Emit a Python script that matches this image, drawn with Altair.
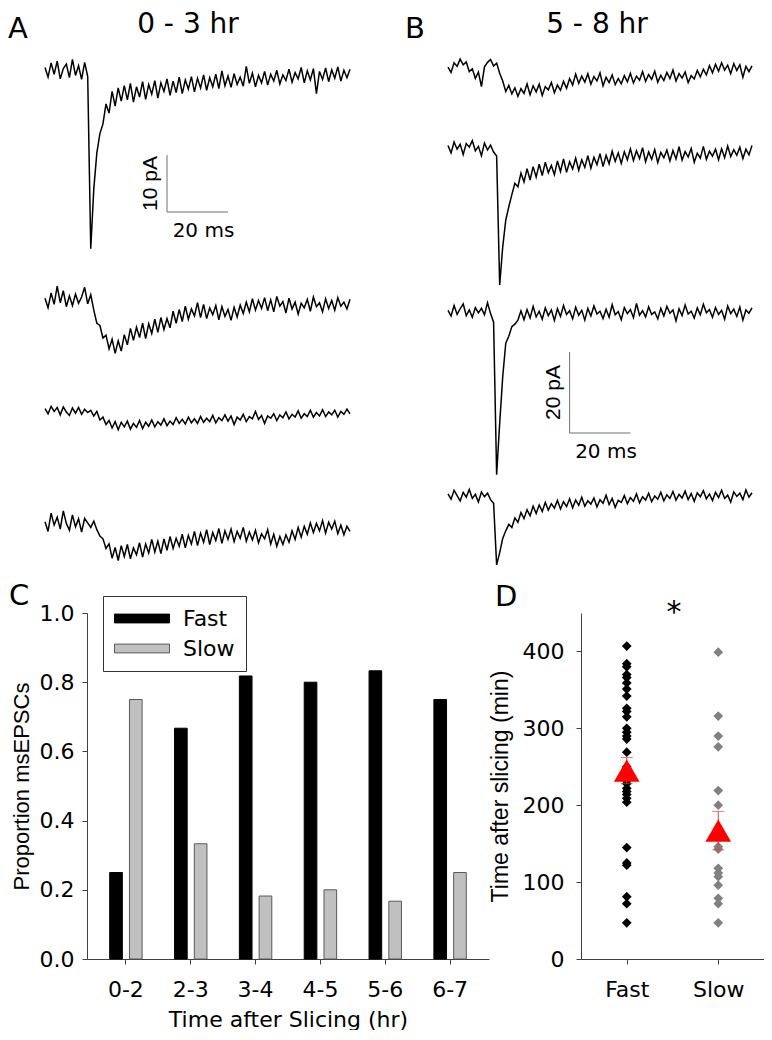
import altair as alt
import pandas as pd

# ---------------- data ----------------
dt_ms = 1.0

# Panel A (0 - 3 hr), pA relative to each trace's baseline
trace_A1 = [0.8, -0.9, 1.6, -0.4, 1.9, -1.2, 0.6, 1.4, -1.0, 2.2, -0.6, 1.1, -1.3, 1.7, -0.8,
            -31.0, -20.5, -14.2, -10.8, -9.1, -5.6, -7.2, -3.4, -6.0, -2.8, -5.1, -2.4, -4.9, -2.0, -5.3,
            -2.6, -4.4, -1.7, -4.8, -2.2, -3.9, -1.5, -4.6, -1.9, -3.4, -1.2, -4.1, -1.6, -3.6, -0.9,
            -3.8, -1.4, -3.0, -0.8, -3.5, -1.1, -2.8, -0.5, -3.2, -1.0, -2.6, -0.4, -2.9, 0.2, -2.4,
            -0.7, -2.7, -0.3, -2.2, -0.9, -2.5, 1.0, -2.0, -0.2, -2.6, -0.6, -1.9, 0.1, -2.3, -0.4,
            -1.6, 0.3, -2.1, -0.5, -1.5, 0.5, -1.8, -0.1, -1.2, 0.8, -1.9, 0.2, -1.4, 0.6, -3.8,
            0.1, -1.3, 0.7, -1.7, 0.4, -1.1, 0.9, -1.6, 0.3, -1.0, 0.5]
trace_A2 = [0.5, -1.2, 1.4, -0.6, 2.6, -0.3, 1.8, -1.0, 0.9, -0.8, 1.2, -0.4, 0.7, 2.4, -0.5, 1.1,
            -1.6, -3.9, -4.3, -6.5, -6.0, -8.4, -6.7, -9.2, -7.0, -8.8, -5.9, -7.7, -4.8, -6.9,
            -4.6, -6.4, -3.9, -6.6, -4.0, -5.7, -3.2, -5.5, -2.9, -5.0, -3.1, -4.7, -1.8, -3.9, -1.5,
            -3.6, -0.9, -3.2, -1.4, -2.6, -0.3, -2.9, -0.6, -3.1, -1.2, -2.4, -0.8, -3.3, -1.0, -2.7,
            -1.5, -3.4, -1.1, -2.8, -0.7, -2.2, -0.2, -1.9, 0.4, -1.6, 0.1, -1.3, 0.6, -1.7, 0.2,
            -1.9, 0.8, -0.9, -0.1, -2.1, 0.5, -1.4, -0.2, -2.3, -0.4, -1.2, 0.3, -1.8, 0.7, -1.0,
            -0.3, -1.9, 0.4, -1.3, 0.1, -1.6, 0.6, -0.9, -0.2, -1.4, 0.3]
trace_A3 = [0.6, -0.3, 1.0, 0.1, 0.8, -0.5, 0.9, 0.0, -0.6, 0.7, -0.2, 0.8, -0.4, 0.5, -0.1, 0.3, -0.7,
            0.1, -1.4, -0.9, -2.2, -1.5, -2.8, -1.7, -3.1, -1.8, -2.6, -1.6, -3.0, -2.0, -2.7,
            -1.5, -2.9, -1.8, -2.5, -1.4, -2.6, -1.7, -2.3, -1.2, -2.4, -1.6, -2.2, -1.0, -2.0,
            -1.3, -2.1, -0.9, -1.9, -1.2, -2.0, -0.8, -1.8, -1.1, -1.7, -0.6, -1.9, -1.0, -1.5,
            -0.5, -1.6, -0.7, -2.2, -0.9, -1.4, -0.4, -1.7, -0.8, -1.2, 0.1, -1.3, -0.6, -2.0,
            -0.7, -1.1, -0.3, -1.5, -0.5, -1.0, 0.0, -1.2, -0.4, -0.9, 0.2, -1.1, -0.3, -0.8,
            0.3, -0.9, -0.1, -0.7, 0.4, -0.8, 0.0, -0.5, 0.3, -0.9, 0.1, -0.4, 0.5, -0.3]
trace_A4 = [0.4, -1.3, 1.9, -0.2, 1.2, -0.9, 2.3, 0.1, -1.1, 1.6, -0.5, 0.9, -1.4, 1.0, 0.2, -0.6, 0.5,
            -1.0, -2.1, -2.6, -4.3, -3.5, -6.0, -4.1, -6.4, -3.8, -5.7, -3.6, -6.1, -4.2, -5.4,
            -3.3, -5.8, -3.5, -5.1, -2.7, -4.9, -3.0, -5.2, -2.6, -4.6, -2.2, -4.3, -2.5, -3.9,
            -1.8, -4.2, -2.0, -3.5, -1.3, -3.8, -1.6, -3.2, -1.0, -3.6, -1.5, -2.9, -0.8, -3.4,
            -1.2, -2.7, -0.9, -3.1, -1.3, -2.5, -0.6, -3.0, -1.4, -2.8, -1.1, -3.3, -1.7, -2.6,
            -1.0, -3.5, -1.8, -3.9, -2.2, -3.6, -1.9, -3.2, -1.2, -2.7, -0.6, -2.3, -0.4, -1.8,
            0.2, -1.5, 0.1, -1.2, 0.6, -1.6, 0.3, -0.9, 0.5, -1.7, -0.2, -1.9, -0.4, -1.3]

# Panel B (5 - 8 hr)
trace_B1 = [0.2, -1.1, 1.3, 0.4, 2.2, 0.8, 1.5, -0.9, -0.2, -2.6, -1.0, -4.6, 0.3, 1.4, 2.1, 0.5, 1.2,
            -1.3, -3.2, -5.8, -4.3, -6.4, -4.9, -7.0, -5.1, -6.3, -3.9, -6.6, -4.4, -5.9, -4.0,
            -6.8, -4.6, -5.4, -3.6, -6.1, -4.2, -5.5, -3.3, -5.0, -2.6, -4.2, -1.5, -3.8, -2.0,
            -3.5, -1.4, -4.0, -2.1, -3.2, -1.2, -4.4, -2.3, -3.6, -1.7, -4.1, -2.6, -3.9, -1.9,
            -3.4, -1.3, -3.7, -2.0, -3.0, -0.9, -3.3, -1.6, -2.8, -0.8, -3.5, -1.8, -3.1, -1.1,
            -2.6, -0.5, -3.2, -1.4, -2.5, -1.0, -3.6, -1.9, -2.7, -0.6, -2.2, -0.3, -1.7, 0.6,
            -1.2, 0.9, -0.8, 1.3, -0.5, 0.7, -1.4, 1.1, -0.6, 0.8, -2.3, 0.4, -0.9, 0.5]
trace_B2 = [0.6, -1.2, 1.5, -0.3, 0.9, -1.6, 1.1, 0.2, 1.8, -0.7, 0.4, -1.9, 1.2, -0.5, 0.7, -1.0,
            -2.0, -33.8, -24.4, -17.8, -14.5, -11.5, -8.7, -9.6, -6.2, -8.4, -5.1, -7.9, -4.6, -7.2,
            -4.0, -6.8, -3.5, -6.1, -4.3, -6.6, -3.2, -5.8, -2.7, -6.0, -3.4, -5.2, -2.5, -5.5,
            -2.9, -4.8, -1.9, -5.0, -2.3, -4.1, -1.4, -4.6, -1.8, -3.9, -0.8, -3.3, -1.2, -3.8,
            -0.9, -2.9, -0.2, -3.1, -0.7, -2.6, 0.1, -3.4, -1.0, -2.8, -0.4, -3.6, -1.1, -2.4,
            -0.5, -3.2, -0.6, -2.7, 0.3, -3.0, -0.9, -2.2, -0.1, -3.5, -1.3, -2.5, 0.4, -2.8,
            -0.8, -2.0, -0.3, -2.9, -0.2, -2.4, 0.5, -2.1, -0.4, -1.8, 0.2, -2.6, -0.3, -1.7, 0.6]
trace_B3 = [0.4, -1.0, 1.6, -0.6, 0.8, 2.0, -0.9, 0.5, -1.3, 1.1, -0.2, 0.9, -0.7, 2.3, -0.4,
            -2.5, -40.2, -27.5, -16.0, -7.7, -6.0, -3.6, -3.0, -2.0, 0.3, -1.9, 0.6, -1.5, 1.4,
            -1.2, 0.2, -1.8, 1.0, -0.9, 0.5, -2.1, 0.8, -1.1, 1.6, -0.6, 0.3, -1.7, 1.2, -0.8,
            0.4, -2.0, 0.9, -1.0, 1.5, -0.5, 0.2, -1.6, 0.7, -1.3, 1.8, -0.7, 0.1, -1.9, 1.1,
            -0.4, 0.6, -1.4, 2.1, -0.8, 0.3, -1.2, 1.3, -0.6, 0.0, -1.7, 0.9, -1.0, 1.4, -0.3,
            0.5, -2.2, 0.8, -0.9, 1.7, -0.5, 0.2, -1.5, 1.0, -0.7, 1.9, -0.2, 0.6, -1.3, 1.1,
            -0.6, 0.4, -1.8, 1.5, -0.4, 0.7, -1.1, 1.2, -2.0, 0.5, -0.3, 1.0]
trace_B4 = [0.5, -0.8, 1.4, 0.1, -1.2, 0.9, -0.3, 1.6, -0.6, 0.4, -1.5, 1.0, -0.2, 0.7, -0.9,
            -1.8, -17.0, -14.0, -10.5, -8.6, -7.0, -7.8, -5.4, -6.5, -4.1, -5.6, -3.4, -4.9, -2.5,
            -4.3, -2.2, -3.8, -1.6, -3.5, -1.9, -3.0, -1.1, -3.2, -1.4, -2.6, -0.7, -2.9, -1.0,
            -2.3, -0.3, -2.5, -1.2, -2.0, -0.5, -2.7, -0.9, -1.8, 0.2, -2.1, -0.6, -2.8, -1.1,
            -1.6, 0.1, -1.9, -0.4, -1.3, 0.5, -1.7, -0.2, -1.0, 0.7, -1.4, 0.0, -0.8, 0.9, -1.2,
            0.3, -0.6, 1.1, -1.0, 0.4, -0.5, 1.2, -0.9, 0.6, -1.3, 0.8, -0.2, 1.3, -0.7, 0.5,
            -1.1, 0.9, -0.4, 1.4, -0.6, 0.2, -1.5, 1.0, -0.1, 0.7, -0.9, 1.5, -0.3, 0.8]

scale_ms = 20
scale_pA_A = 10
scale_pA_B = 20

# Panel C
time_bins = ["0-2", "2-3", "3-4", "4-5", "5-6", "6-7"]
groups = ["Fast", "Slow"]
prop_fast = [0.25, 0.667, 0.818, 0.80, 0.833, 0.75]
prop_slow = [0.75, 0.333, 0.182, 0.20, 0.167, 0.25]

# Panel D (minutes after slicing)
fast_times = [407, 384, 380, 370, 366, 359, 351, 342, 326, 322, 315, 300, 295, 290, 286,
              269, 250, 232, 228, 222, 218, 214, 209, 204, 145, 125, 122, 81, 72, 47]
slow_times = [399, 316, 290, 276, 219, 200, 146, 143, 118, 112, 107, 96, 79, 72, 47]
group_means = [245, 167]
group_sems = [17, 25]

# ---------------- layout / style ----------------
FH = "DejaVu Sans"
FV = "Liberation Sans"
TOP_H = 572
LEFT_EXT = 79            # width taken by panel C's y axis; panel A's plot starts there too
A_X0, A_W = 8 + LEFT_EXT, 293   # panel A plot area: abs x 87..380
B_X0, B_W = 380, 384            # panel B plot area: abs x 380..764
A_PXMS, A_PXPA = 3.05, 5.7
B_PXMS, B_PXPA = 3.04, 4.05
A_T0 = -(45 - A_X0) / A_PXMS
B_T0 = -(448 - B_X0) / B_PXMS
A_BASE = [-(y - 8) / A_PXPA for y in (72, 301, 412, 524)]
B_BASE = [-(y - 8) / B_PXPA for y in (68, 148, 312, 496)]
A_BAR_TOP = -(155 - 8) / A_PXPA
B_BAR_TOP = -(352 - 8) / B_PXPA
BAR_T = 40


def trace_frame(traces, bases):
    rows = []
    for k, (vals, base) in enumerate(zip(traces, bases)):
        for i, v in enumerate(vals):
            rows.append({"trace": k, "t": i * dt_ms, "I": base + v})
    return pd.DataFrame(rows)


def trace_panel(traces, bases, x0, width, t0, pxms, pxpa, bar_top, bar_pa,
                letter, letter_x, title, title_x):
    xs = alt.Scale(domain=[t0, t0 + width / pxms], nice=False, zero=False)
    ys = alt.Scale(domain=[-TOP_H / pxpa, 0], nice=False, zero=False)
    df = trace_frame(traces, bases)
    lines = alt.Chart(df).mark_line(color="black", strokeWidth=1.5).encode(
        x=alt.X("t:Q", scale=xs, axis=None),
        y=alt.Y("I:Q", scale=ys, axis=None),
        detail="trace:N",
    )
    bar = pd.DataFrame({
        "t": [BAR_T], "t2": [BAR_T + scale_ms], "tmid": [BAR_T + scale_ms / 2],
        "top": [bar_top], "bot": [bar_top - bar_pa], "mid": [bar_top - bar_pa / 2],
        "vlab": [f"{bar_pa} pA"], "hlab": [f"{scale_ms} ms"],
    })
    vbar = alt.Chart(bar).mark_rule(color="#707070", strokeWidth=1).encode(
        x=alt.X("t:Q", scale=xs, axis=None),
        y=alt.Y("top:Q", scale=ys, axis=None), y2="bot:Q")
    hbar = alt.Chart(bar).mark_rule(color="#707070", strokeWidth=1).encode(
        x=alt.X("t:Q", scale=xs, axis=None), x2="t2:Q",
        y=alt.Y("bot:Q", scale=ys, axis=None))
    vlab = alt.Chart(bar).mark_text(angle=270, align="center", baseline="bottom", dy=-6,
                                    font=FV, fontSize=21, color="black").encode(
        x=alt.X("t:Q", scale=xs, axis=None), y=alt.Y("mid:Q", scale=ys, axis=None), text="vlab:N")
    hlab = alt.Chart(bar).mark_text(align="center", baseline="top", dy=9, dx=6,
                                    font=FH, fontSize=20, color="black").encode(
        x=alt.X("tmid:Q", scale=xs, axis=None), y=alt.Y("bot:Q", scale=ys, axis=None), text="hlab:N")
    let = alt.Chart(pd.DataFrame({"s": [letter]})).mark_text(
        align="left", baseline="alphabetic", font=FH, fontSize=29, color="black").encode(
        x=alt.value(letter_x - x0), y=alt.value(30), text="s:N")
    ttl = alt.Chart(pd.DataFrame({"s": [title]})).mark_text(
        align="center", baseline="alphabetic", font=FH, fontSize=28, color="black").encode(
        x=alt.value(title_x - x0), y=alt.value(25), text="s:N")
    return alt.layer(lines, vbar, hbar, vlab, hlab, let, ttl).properties(width=width, height=TOP_H)


panelA = trace_panel([trace_A1, trace_A2, trace_A3, trace_A4], A_BASE, A_X0, A_W, A_T0, A_PXMS,
                     A_PXPA, A_BAR_TOP, scale_pA_A, "A", 8, "0 - 3 hr", 188)
panelB = trace_panel([trace_B1, trace_B2, trace_B3, trace_B4], B_BASE, B_X0, B_W, B_T0, B_PXMS,
                     B_PXPA, B_BAR_TOP, scale_pA_B, "B", 405, "5 - 8 hr", 597)

# ---------------- panel C ----------------
PLOT_H = 346
dfC = pd.DataFrame({
    "bin": time_bins * 2,
    "grp": [groups[0]] * len(time_bins) + [groups[1]] * len(time_bins),
    "val": prop_fast + prop_slow,
})
axis_common = dict(domainColor="#404040", tickColor="#404040", tickSize=5, grid=False,
                   labelFont=FH, labelFontSize=22, labelColor="black",
                   titleFontWeight="normal", titleColor="black")
barsC = alt.Chart(dfC).mark_bar(strokeWidth=1).encode(
    x=alt.X("bin:N", sort=time_bins,
            scale=alt.Scale(paddingInner=0.5, paddingOuter=0.35),
            axis=alt.Axis(title="Time after Slicing (hr)", labelAngle=0, labelPadding=15,
                          titlePadding=9, titleFont=FH, titleFontSize=22, **axis_common)),
    xOffset=alt.XOffset("grp:N", sort=groups, scale=alt.Scale(paddingInner=0.36)),
    y=alt.Y("val:Q", scale=alt.Scale(domain=[0, 1], nice=False),
            axis=alt.Axis(title="Proportion msEPSCs", values=[0, 0.2, 0.4, 0.6, 0.8, 1.0],
                          format=".1f", labelPadding=8, titlePadding=6, titleFont=FV,
                          titleFontSize=22, **axis_common)),
    fill=alt.Fill("grp:N", sort=groups,
                  scale=alt.Scale(domain=groups, range=["#000000", "#c0c0c0"]),
                  legend=alt.Legend(title=None, orient="none", legendX=16, legendY=-17,
                                    symbolType="M-1,-0.4L4,-0.4L4,0.4L-1,0.4Z",
                                    symbolSize=484,
                                    symbolStrokeColor="#555555",
                                    symbolStrokeWidth=1, symbolOpacity=1,
                                    labelFont=FH, labelFontSize=22, labelColor="black",
                                    labelOffset=46, padding=11, rowPadding=7,
                                    strokeColor="#333333", fillColor="white")),
    stroke=alt.Stroke("grp:N", sort=groups,
                      scale=alt.Scale(domain=groups, range=["#000000", "#5a5a5a"]), legend=None),
)
letterC = alt.Chart(pd.DataFrame({"s": ["C"]})).mark_text(
    align="left", baseline="alphabetic", font=FH, fontSize=29, color="black").encode(
    x=alt.value(-78), y=alt.value(-8), text="s:N")
panelC = alt.layer(barsC, letterC).properties(width=402, height=PLOT_H)

# ---------------- panel D ----------------
dfD = pd.DataFrame({
    "grp": [groups[0]] * len(fast_times) + [groups[1]] * len(slow_times),
    "time": fast_times + slow_times,
})
dfM = pd.DataFrame({
    "grp": groups,
    "mean": group_means,
    "lo": [m - s for m, s in zip(group_means, group_sems)],
    "hi": [m + s for m, s in zip(group_means, group_sems)],
})
xD = alt.X("grp:N", sort=groups, scale=alt.Scale(type="point", padding=0.5, domain=groups),
           axis=alt.Axis(title=None, labelAngle=0, labelPadding=15, **axis_common))
yScaleD = alt.Scale(domain=[0, 450], nice=False)
yD = alt.Y("time:Q", scale=yScaleD,
           axis=alt.Axis(title="Time after slicing (min)", values=[0, 100, 200, 300, 400],
                         format="d", labelPadding=12, titlePadding=10, titleFont=FV,
                         titleFontSize=23, **axis_common))
pts = alt.Chart(dfD).mark_point(shape="diamond", filled=True, size=95, opacity=1).encode(
    x=xD, y=yD,
    color=alt.Color("grp:N", scale=alt.Scale(domain=groups, range=["#000000", "#808080"]), legend=None),
)
err = alt.Chart(dfM).mark_rule(color="#e03c3c", strokeWidth=1).encode(
    x=xD, y=alt.Y("lo:Q", scale=yScaleD), y2="hi:Q")
capLo = alt.Chart(dfM).mark_tick(color="#e03c3c", thickness=1, size=12, orient="horizontal").encode(
    x=xD, y=alt.Y("lo:Q", scale=yScaleD))
capHi = alt.Chart(dfM).mark_tick(color="#e03c3c", thickness=1, size=12, orient="horizontal").encode(
    x=xD, y=alt.Y("hi:Q", scale=yScaleD))
tri = alt.Chart(dfM).mark_point(shape="triangle-up", filled=True, size=660, color="#ff0000",
                                opacity=1).encode(x=xD, y=alt.Y("mean:Q", scale=yScaleD))
letterD = alt.Chart(pd.DataFrame({"s": ["D"]})).mark_text(
    align="left", baseline="alphabetic", font=FH, fontSize=29, color="black").encode(
    x=alt.value(-86), y=alt.value(-7), text="s:N")
star = alt.Chart(pd.DataFrame({"s": ["*"]})).mark_text(
    align="center", baseline="alphabetic", font=FH, fontSize=30, color="black").encode(
    x=alt.value(93), y=alt.value(9), text="s:N")
panelD = alt.layer(pts, err, capLo, capHi, tri, letterD, star).properties(width=183, height=PLOT_H)

top = alt.hconcat(panelA, panelB, spacing=0)
bottom = alt.hconcat(panelC, panelD, spacing=0).resolve_scale(color="independent", fill="independent",
                                                              stroke="independent")
chart = alt.vconcat(top, bottom, spacing=2).properties(padding=0).configure_view(stroke=None)

chart.save("out.html", embed_options={"renderer": "svg", "actions": False})
